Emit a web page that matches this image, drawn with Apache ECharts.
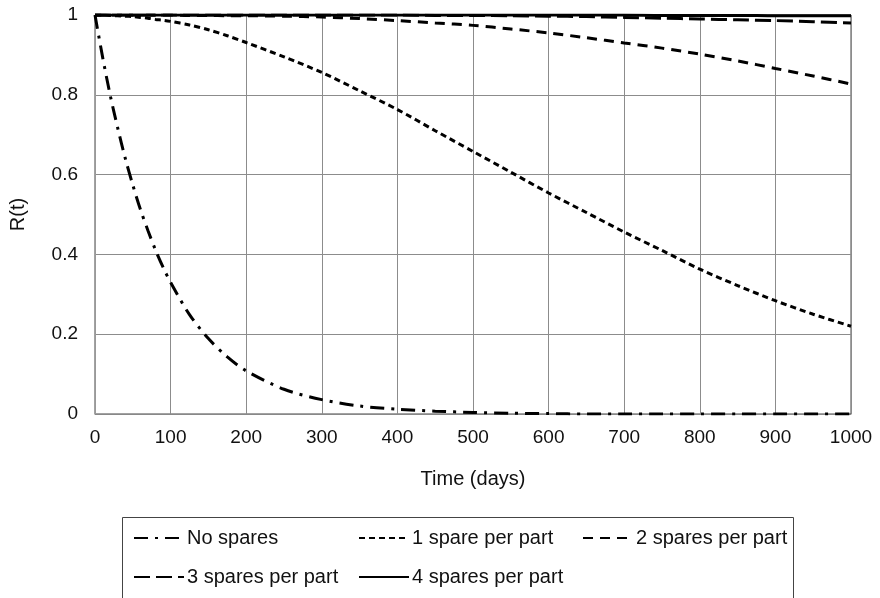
<!doctype html>
<html>
<head>
<meta charset="utf-8">
<title>R(t) vs time</title>
<script src="https://cdn.jsdelivr.net/npm/echarts@6/dist/echarts.min.js"></script>
<style>
  html, body { margin: 0; padding: 0; background: #fff; }
  #main { width: 880px; height: 598px; }
</style>
</head>
<body>
<div id="main"></div>
<script>
// time points (days)
var times = [0, 10, 20, 30, 40, 50, 60, 70, 80, 90, 100,
  125, 150, 175, 200,
  250, 300, 350, 400, 450, 500, 550, 600, 650, 700, 750, 800, 850, 900, 950, 1000];

// R(t)
var noSpares = [1, 0.895, 0.80, 0.717, 0.641, 0.574, 0.513, 0.46, 0.411, 0.368, 0.33,
  0.249, 0.189, 0.143, 0.108,
  0.062, 0.036, 0.02, 0.012, 0.007, 0.004, 0.002, 0.001, 0, 0, 0, 0, 0, 0, 0, 0];
var oneSpare = [1, 1, 0.999, 0.998, 0.997, 0.996, 0.994, 0.992, 0.989, 0.987, 0.984,
  0.975, 0.963, 0.948, 0.931,
  0.895, 0.856, 0.81, 0.763, 0.71, 0.658, 0.606, 0.554, 0.505, 0.456, 0.41, 0.363, 0.322, 0.284, 0.25, 0.22];
var twoSpares = [1, 1, 1, 1, 1, 1, 1, 1, 1, 1, 1,
  0.999, 0.999, 0.998, 0.998,
  0.997, 0.995, 0.991, 0.986, 0.98, 0.974, 0.965, 0.955, 0.943, 0.93, 0.917, 0.902, 0.885, 0.866, 0.847, 0.827];
var threeSpares = [1, 1, 1, 1, 1, 1, 1, 1, 1, 1, 1,
  1, 1, 1, 1,
  1, 1, 1, 1, 0.999, 0.999, 0.998, 0.997, 0.996, 0.994, 0.992, 0.99, 0.988, 0.986, 0.983, 0.98];
var fourSpares = [1, 1, 1, 1, 1, 1, 1, 1, 1, 1, 1,
  1, 1, 1, 1,
  1, 1, 1, 1, 1, 1, 1, 1, 1, 1, 0.999, 0.999, 0.999, 0.998, 0.998, 0.998];

var names = ['No spares', '1 spare per part', '2 spares per part', '3 spares per part', '4 spares per part'];
var values = [noSpares, oneSpare, twoSpares, threeSpares, fourSpares];
var dashes = [[14, 7, 3, 7], [6, 4], [10, 7], [16, 6], 'solid'];

function pairs(arr) {
  return times.map(function (t, i) { return [t, arr[i]]; });
}

var FONT = 'Liberation Sans, Arial, sans-serif';

var series = names.map(function (n, i) {
  return {
    name: n,
    type: 'line',
    data: pairs(values[i]),
    symbol: 'none',
    smooth: 0.3,
    z: 3 + i,
    itemStyle: { color: '#000' },
    lineStyle: { color: '#000', width: 3, type: dashes[i] }
  };
});

// legend slots (one per item so the columns line up)
var legendPos = [
  { left: 133, top: 528 }, { left: 358, top: 528 }, { left: 582, top: 528 },
  { left: 133, top: 567 }, { left: 358, top: 567 }
];
var legends = names.map(function (n, i) {
  return {
    data: [n],
    left: legendPos[i].left,
    top: legendPos[i].top,
    padding: 0,
    itemWidth: 50,
    itemHeight: 20,
    selectedMode: false,
    itemStyle: { opacity: 0 },
    textStyle: { fontFamily: FONT, fontSize: 20, color: '#111', padding: [0, 0, 0, -2] }
  };
});

var chart = echarts.init(document.getElementById('main'), null, { renderer: 'canvas' });
chart.setOption({
  animation: false,
  backgroundColor: '#fff',
  grid: { left: 95, right: 29, top: 15, bottom: 184, show: true, borderColor: '#444', borderWidth: 1 },
  legend: legends,
  graphic: [{
    type: 'rect',
    shape: { x: 122.5, y: 517.5, width: 671, height: 90 },
    style: { fill: 'none', stroke: '#444', lineWidth: 1 },
    silent: true
  }],
  xAxis: {
    type: 'value',
    min: 0, max: 1000, interval: 100,
    name: 'Time (days)',
    nameLocation: 'middle',
    nameGap: 55,
    nameTextStyle: { fontFamily: FONT, fontSize: 20, color: '#111' },
    axisLine: { lineStyle: { color: '#888' } },
    axisTick: { show: false },
    axisLabel: { fontFamily: FONT, fontSize: 19, color: '#111', margin: 14,
      formatter: function (v) { return String(v); } },
    splitLine: { lineStyle: { color: '#8c8c8c', width: 1 } }
  },
  yAxis: {
    type: 'value',
    min: 0, max: 1, interval: 0.2,
    name: 'R(t)',
    nameLocation: 'middle',
    nameGap: 67,
    nameTextStyle: { fontFamily: FONT, fontSize: 20, color: '#111' },
    axisLine: { show: true, lineStyle: { color: '#999' } },
    axisTick: { show: false },
    axisLabel: { fontFamily: FONT, fontSize: 19, color: '#111', margin: 17 },
    splitLine: { lineStyle: { color: '#8c8c8c', width: 1 } }
  },
  series: series
});
</script>
</body>
</html>
